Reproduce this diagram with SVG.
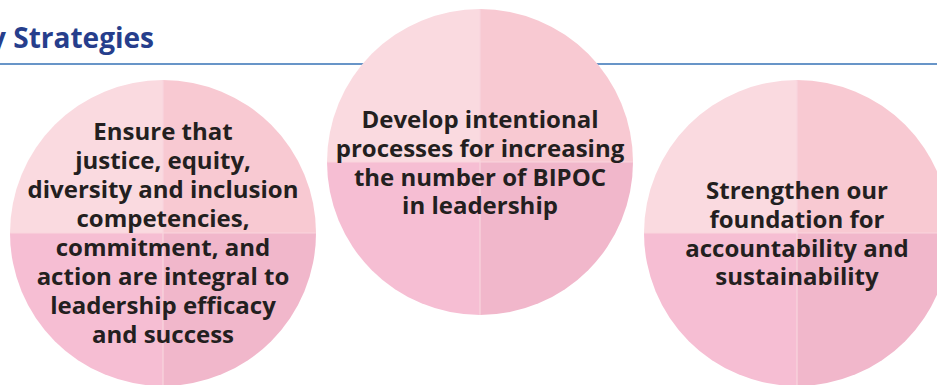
<svg xmlns="http://www.w3.org/2000/svg" width="937" height="385" viewBox="0 0 937 385">
<style>
.tl{fill:#FADAE0}.tr{fill:#F8C9D2}.bl{fill:#F6BED3}.br{fill:#F1B7CB}
.div{stroke:#F9D6DE;stroke-width:1.2}
.lbl{font-family:"Open Sans","Noto Sans",sans-serif;font-weight:700;font-size:24px;fill:#231F20;text-anchor:middle}
.title{font-family:"Open Sans","Noto Sans",sans-serif;font-weight:700;font-size:28px;fill:#263E8C}
</style>
<defs>
<g id="pie">
<path class="tl" d="M0 0 V-153 A153 153 0 0 0 -153 0 Z"/>
<path class="tr" d="M0 0 V-153 A153 153 0 0 1 153 0 Z"/>
<path class="bl" d="M0 0 V153 A153 153 0 0 1 -153 0 Z"/>
<path class="br" d="M0 0 V153 A153 153 0 0 0 153 0 Z"/>
<line class="div" x1="0" y1="-153" x2="0" y2="153"/>
<line class="div" x1="-153" y1="0" x2="153" y2="0"/>
</g>
</defs>
<g id="header">
<text class="title" x="154" y="48" text-anchor="end">y Strategies</text>
<line x1="0" y1="64" x2="937" y2="64" stroke="#3672B6" stroke-width="1.6"/>
</g>
<g id="node1">
<use href="#pie" x="163" y="233"/>
<text class="lbl" x="163" y="140">Ensure that</text>
<text class="lbl" x="163" y="169">justice, equity,</text>
<text class="lbl" x="163" y="198">diversity and inclusion</text>
<text class="lbl" x="163" y="227">competencies,</text>
<text class="lbl" x="163" y="256">commitment, and</text>
<text class="lbl" x="163" y="285">action are integral to</text>
<text class="lbl" x="163" y="314">leadership efficacy</text>
<text class="lbl" x="163" y="343">and success</text>
</g>
<g id="node2">
<use href="#pie" x="480" y="162"/>
<text class="lbl" x="480" y="128">Develop intentional</text>
<text class="lbl" x="480" y="157">processes for increasing</text>
<text class="lbl" x="480" y="186">the number of BIPOC</text>
<text class="lbl" x="480" y="214">in leadership</text>
</g>
<g id="node3">
<use href="#pie" x="797" y="233"/>
<text class="lbl" x="797" y="199">Strengthen our</text>
<text class="lbl" x="797" y="228">foundation for</text>
<text class="lbl" x="797" y="257">accountability and</text>
<text class="lbl" x="797" y="285">sustainability</text>
</g>
<g id="connectors"/>
</svg>
